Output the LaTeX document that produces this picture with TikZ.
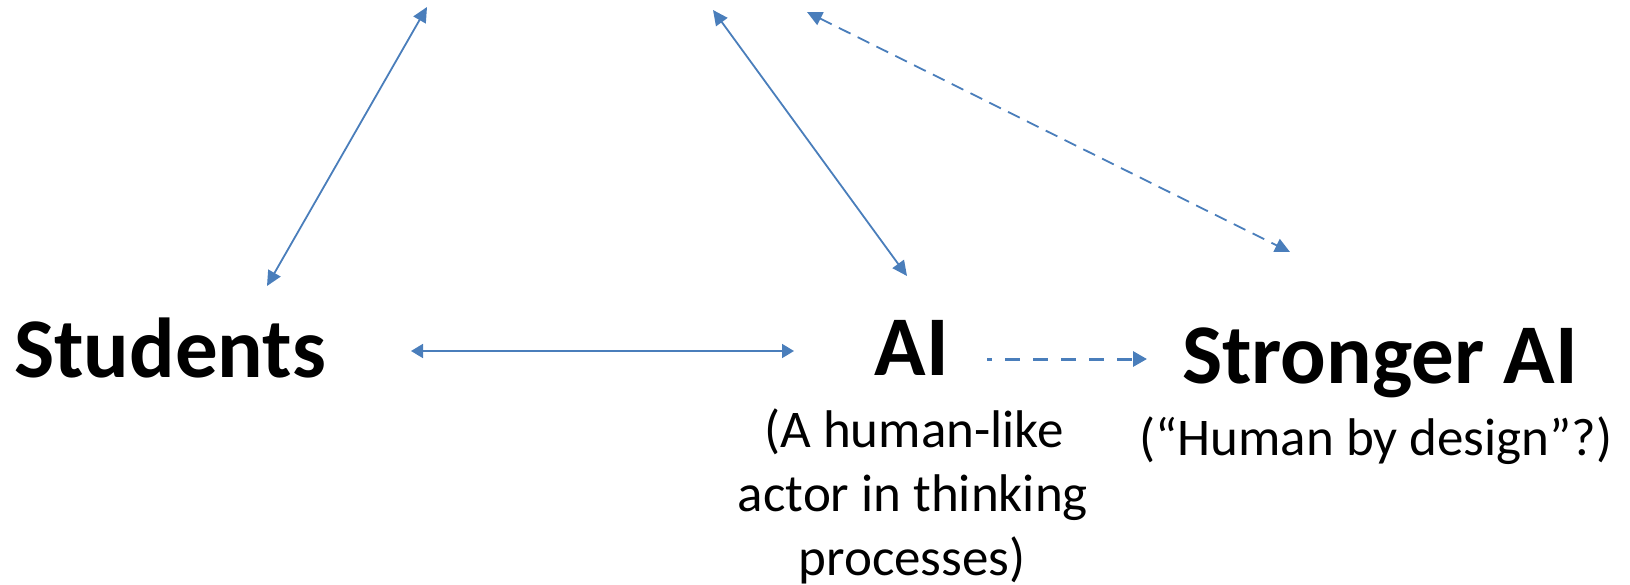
\documentclass[tikz,border=0pt]{standalone}
\usepackage{fontspec}
\setmainfont{Carlito}
\usetikzlibrary{arrows.meta}
\definecolor{linkblue}{RGB}{74,126,187}
\begin{document}
\begin{tikzpicture}[x=1pt,y=-1pt,
  title/.style={font=\fontsize{85}{100}\selectfont\bfseries, inner sep=0pt, anchor=base},
  note/.style={font=\fontsize{53}{64}\selectfont, inner sep=0pt, anchor=base},
  bigtip/.style={Triangle[length=15pt,width=14pt]},
  smalltip/.style={Triangle[length=12pt,width=14pt]},
  link/.style={draw=linkblue, line width=1.8pt},
  twoway/.style={link, {Triangle[length=15pt,width=14pt]}-{Triangle[length=15pt,width=14pt]}},
  twowayflat/.style={link, {Triangle[length=12pt,width=14pt]}-{Triangle[length=12pt,width=14pt]}},
  dashlink/.style={link, dash pattern=on 13pt off 8pt},
  dashflat/.style={draw=linkblue, line width=3pt, dash pattern=on 15pt off 13pt, dash phase=10pt,
    -{Triangle[length=14pt,width=15pt]}}
]
\useasboundingbox (0,0) rectangle (1630,584);

% main labels
\node[title] (students) at (170,377) {Students};
\node[title] (ai) at (912,375) {AI};
\node[title] (strong) at (1380,383) {Stronger AI};

% descriptions
\node[note] (aiA) at (914,447) {(A human-like};
\node[note] (aiB) at (913,511) {actor in thinking};
\node[note] (aiC) at (912,575) {processes)};
\node[note] (strongnote) at (1376,455) {(“Human by design”?)};

% arrow end points
\coordinate (s1) at (267,286);
\coordinate (t1) at (427,7);
\coordinate (a1) at (907,276);
\coordinate (t2) at (713,10);
\coordinate (b1) at (1290,252);
\coordinate (t3) at (807,12);
\coordinate (hL) at (411,351);
\coordinate (hR) at (794,351);
\coordinate (dL) at (987,359);
\coordinate (dR) at (1147,359);

% connectors
\draw[twoway] (s1) -- (t1);
\draw[twoway] (a1) -- (t2);
\draw[dashlink, {Triangle[length=15pt,width=14pt]}-{Triangle[length=15pt,width=14pt]}] (t3) -- (b1);
\draw[twowayflat] (hL) -- (hR);
\draw[dashflat] (dL) -- (dR);
\end{tikzpicture}
\end{document}
